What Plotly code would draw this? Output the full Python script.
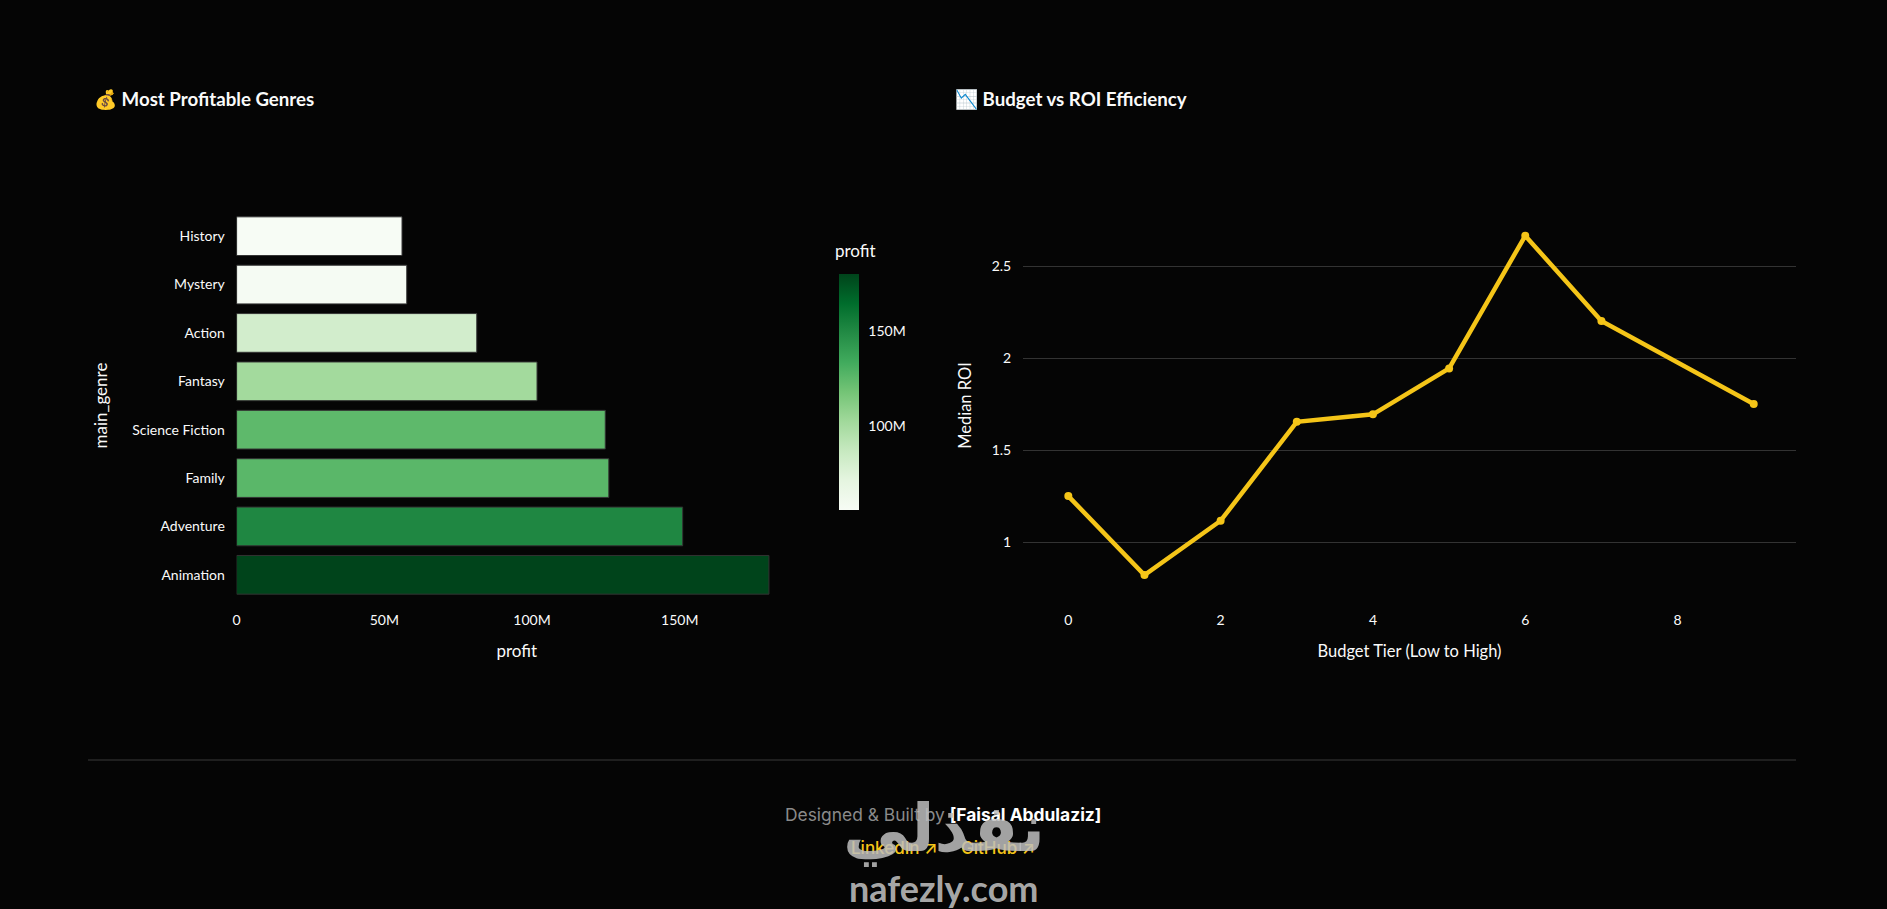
import plotly.graph_objects as go

W, H = 1887, 909
BG = '#050505'
TEXT = '#fafafa'
FONT = 'Lato'

# Genre profit (bottom bar first)
genres = ['Animation', 'Adventure', 'Family', 'Science Fiction', 'Fantasy', 'Action', 'Mystery', 'History']
profit = [180.2e6, 151e6, 126e6, 124.8e6, 101.7e6, 81.3e6, 57.6e6, 56e6]

# Median ROI per budget tier, tier 8 has no point
tiers = [0, 1, 2, 3, 4, 5, 6, 7, 9]
median_roi = [1.25, 0.82, 1.116, 1.654, 1.695, 1.945, 2.667, 2.203, 1.751]


def px_x(v):
    return v / W


def px_y(v):
    return 1 - v / H


def note(text, x, y, size, color=TEXT, family=FONT, anchor='center', weight=None):
    fig.add_annotation(text=text, x=px_x(x), y=px_y(y), xref='paper', yref='paper', showarrow=False,
                       xanchor=anchor, yanchor='middle',
                       font=dict(size=size, color=color, family=family, weight=weight))


bars = go.Bar(
    x=profit, y=genres, orientation='h', xaxis='x', yaxis='y',
    marker=dict(
        color=profit, colorscale='Greens', cmin=min(profit), cmax=max(profit),
        line=dict(color='#333', width=1),
        colorbar=dict(
            x=px_x(839), xanchor='left', xpad=0,
            y=px_y(274), yanchor='top', ypad=0,
            lenmode='pixels', len=236, thicknessmode='pixels', thickness=20,
            ticks='outside', ticklen=7, tickcolor='rgba(0,0,0,0)',
            outlinewidth=0, tickfont=dict(size=14, color=TEXT), dtick=50e6, tick0=0,
        ),
    ),
)

line = go.Scatter(
    x=tiers, y=median_roi, mode='lines+markers', xaxis='x2', yaxis='y2',
    line=dict(color='#f5c518', width=4.5), marker=dict(color='#f5c518', size=8),
)

fig = go.Figure(data=[bars, line])

hidden_tick = dict(ticks='outside', ticklen=8, tickcolor='rgba(0,0,0,0)', automargin=False,
                   tickfont=dict(size=14, color=TEXT), zeroline=False, showline=False)

fig.update_layout(
    width=W, height=H, margin=dict(l=0, r=0, t=0, b=0),
    paper_bgcolor=BG, plot_bgcolor=BG, showlegend=False,
    font=dict(family=FONT, color=TEXT),
    xaxis=dict(domain=[px_x(236.6), px_x(797)], range=[0, 189.7e6], showgrid=False, anchor='y',
               title=dict(text='profit', font=dict(size=17), standoff=18), dtick=50e6, tick0=0, **hidden_tick),
    yaxis=dict(domain=[px_y(599), px_y(212)], showgrid=False, anchor='x', type='category',
               title=dict(text='main_genre', font=dict(size=17), standoff=20), **hidden_tick),
    xaxis2=dict(domain=[px_x(1023), px_x(1796)], range=[-0.595, 9.555], showgrid=False, anchor='y2',
                title=dict(text='Budget Tier (Low to High)', font=dict(size=16.5), standoff=18), dtick=2, tick0=0, **hidden_tick),
    yaxis2=dict(domain=[px_y(599), px_y(212)], range=[0.69, 2.796], anchor='x2', dtick=0.5, tick0=0,
                showgrid=True, gridcolor='#333', gridwidth=1,
                title=dict(text='Median ROI', font=dict(size=16.5), standoff=15), **hidden_tick),
)

# Section titles
note('<b>💰 Most Profitable Genres</b>', 92, 100, 18.7, anchor='left')
note('<b>📉 Budget vs ROI Efficiency</b>', 953, 100, 18.7, anchor='left')

# Colour bar heading
note('profit', 855, 250, 17)

# Footer
fig.add_shape(type='line', xref='paper', yref='paper', x0=px_x(88), x1=px_x(1796), y0=px_y(760), y1=px_y(760),
              line=dict(color='#3a3a3a', width=1))
note('<span style="color:#8a8a8a">Designed &amp; Built by </span><b>[Faisal Abdulaziz]</b>', 943, 814, 17.4,
     color='#ffffff', family='Inter')
note('LinkedIn ↗', 893.5, 848, 17, color='#f5c518', family='Inter', weight=500)
note('GitHub ↗', 998, 848, 17, color='#f5c518', family='Inter', weight=500)

# Watermark over the footer
note('<b>نفذلي</b>', 944, 828, 66, color='rgba(190,190,190,0.85)', family='DejaVu Sans')
note('<b>nafezly.com</b>', 944, 888, 36, color='rgba(190,190,190,0.9)', family='Lato')

fig.write_html("out.html", config=dict(displayModeBar=False),
               post_script="document.body.style.margin='0';document.body.style.background='#050505';")
